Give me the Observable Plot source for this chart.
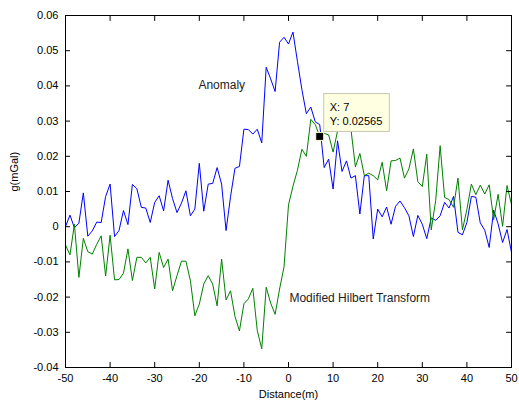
<!DOCTYPE html>
<html>
<head>
<meta charset="utf-8">
<script src="https://cdn.jsdelivr.net/npm/d3@7"></script>
<script src="https://cdn.jsdelivr.net/npm/@observablehq/plot@0.6"></script>
<style>
  html, body { margin: 0; padding: 0; background: #fff; }
  #chart { width: 519px; height: 405px; }
</style>
</head>
<body>
<div id="chart"></div>
<script>
// Distance positions (m)
const distance = d3.range(-50, 51, 1);

// Anomaly (blue), mGal
const anomaly = [
  0.0000, 0.0033, -0.0003, 0.0010, 0.0096, -0.0027, -0.0012, 0.0013, 0.0012, 0.0086,
  0.0121, -0.0028, -0.0011, 0.0046, 0.0006, 0.0120, 0.0108, 0.0055, 0.0053, 0.0012,
  0.0069, 0.0088, 0.0045, 0.0132, 0.0080, 0.0040, 0.0067, 0.0102, 0.0031, 0.0050,
  0.0180, 0.0044, 0.0121, 0.0123, 0.0168, 0.0121, -0.0011, 0.0085, 0.0166, 0.0171,
  0.0277, 0.0276, 0.0263, 0.0277, 0.0238, 0.0453, 0.0420, 0.0384, 0.0524, 0.0538,
  0.0519,
  0.0553, 0.0470, 0.0390, 0.0321, 0.0340, 0.0298, 0.0290, 0.0168, 0.0192, 0.0107,
  0.0244, 0.0157, 0.0187, 0.0138, 0.0145, 0.0036, 0.0145, 0.0145, -0.0035, 0.0050,
  0.0028, 0.0056, 0.0007, 0.0058, 0.0073, 0.0054, 0.0031, -0.0028, 0.0032, 0.0007,
  -0.0034, 0.0025, 0.0018, 0.0031, 0.0069, 0.0053, 0.0086, -0.0016, -0.0023, 0.0012,
  0.0086, 0.0084, 0.0011, -0.0010, -0.0059, 0.0047, 0.0008, -0.0045, -0.0008, -0.0073
];

// Modified Hilbert Transform (green), mGal
const hilbert = [
  -0.0052, -0.0080, 0.0007, -0.0144, -0.0033, -0.0071, -0.0078, -0.0050, -0.0026, -0.0140,
  -0.0024, -0.0151, -0.0150, -0.0132, -0.0063, -0.0153, -0.0087, -0.0087, -0.0103, -0.0087,
  -0.0177, -0.0073, -0.0116, -0.0092, -0.0182, -0.0139, -0.0098, -0.0098, -0.0153, -0.0253,
  -0.0220, -0.0163, -0.0139, -0.0163, -0.0225, -0.0092, -0.0208, -0.0182, -0.0255, -0.0296,
  -0.0219, -0.0205, -0.0175, -0.0295, -0.0347, -0.0172, -0.0217, -0.0249, -0.0177, -0.0114,
  0.0062,
  0.0115, 0.0160, 0.0220, 0.0200, 0.0305, 0.0290, 0.02565, 0.0265, 0.0261, 0.0212,
  0.0272, 0.0285, 0.0300, 0.0277, 0.0170, 0.0208, 0.0145, 0.0152, 0.0145, 0.0133,
  0.0183, 0.0102, 0.0187, 0.0188, 0.0195, 0.0138, 0.0164, 0.0221, 0.0128, 0.0114,
  0.0206, -0.0009, 0.0074, 0.0230, 0.0083, 0.0077, 0.0055, 0.0138, -0.0009, 0.0049,
  0.0121, 0.0091, 0.0118, 0.0093, 0.0119, 0.0020, 0.0092, 0.0001, 0.0117, 0.0063
];

const xTicks = [-50, -40, -30, -20, -10, 0, 10, 20, 30, 40, 50];
const yTicks = [-0.04, -0.03, -0.02, -0.01, 0, 0.01, 0.02, 0.03, 0.04, 0.05, 0.06];

const seriesLabels = [
  {text: "Anomaly", x: -20.2, y: 0.0401},
  {text: "Modified Hilbert Transform", x: 0.2, y: -0.0202}
];
const dataTip = [{x: 7, y: 0.02565}];

const anomalyData = distance.map((d, i) => ({x: d, y: anomaly[i]}));
const hilbertData = distance.map((d, i) => ({x: d, y: hilbert[i]}));

const fmt = d => String(d);
const font = "'Liberation Sans', Arial, Helvetica, sans-serif";

// simple straight tick shape for inward ticks on top/right edges
const tickShape = {draw(context, l) { context.moveTo(0, 0); context.lineTo(0, -l); }};

const chart = Plot.plot({
  width: 519,
  height: 405,
  marginLeft: 65,
  marginRight: 8,
  marginTop: 15,
  marginBottom: 38,
  style: {fontFamily: font, fontSize: "11px", color: "#000", background: "#fff", overflow: "visible"},
  x: {domain: [-50, 50]},
  y: {domain: [-0.04, 0.06]},
  marks: [
    Plot.line(anomalyData, {x: "x", y: "y", stroke: "#0000ff", strokeWidth: 1}),
    Plot.line(hilbertData, {x: "x", y: "y", stroke: "#008000", strokeWidth: 1}),
    Plot.frame({stroke: "#000", strokeWidth: 1}),
    Plot.axisX(xTicks, {anchor: "bottom", tickSize: -5, tickPadding: 12, tickFormat: fmt, label: null}),
    Plot.axisY(yTicks, {anchor: "left", tickSize: -5, tickPadding: 12, tickFormat: fmt, label: null}),
    Plot.vector(xTicks, {x: d => d, frameAnchor: "top", length: 5, rotate: 180, anchor: "start", shape: tickShape, stroke: "#000", strokeWidth: 1}),
    Plot.vector(yTicks, {y: d => d, frameAnchor: "right", length: 5, rotate: -90, anchor: "start", shape: tickShape, stroke: "#000", strokeWidth: 1}),
    Plot.text(seriesLabels, {x: "x", y: "y", text: "text", textAnchor: "start", fontSize: 12, fill: "#222"}),
    Plot.text(["g(mGal)"], {frameAnchor: "left", text: d => d, rotate: -90, dx: -51, fontSize: 11}),
    Plot.text(["Distance(m)"], {frameAnchor: "bottom", text: d => d, dy: 30, fontSize: 11}),
    Plot.dot(dataTip, {x: "x", y: "y", symbol: "square", r: 4.5, fill: "#000", stroke: "#ffffd0", strokeWidth: 1}),
    Plot.text(dataTip, {
      x: "x", y: "y",
      text: d => `X: ${d.x}\nY: ${d.y}`,
      textAnchor: "start", lineAnchor: "bottom",
      dx: 10, dy: -11, fontSize: 11, lineHeight: 1.35, fill: "#000",
      ariaLabel: () => "datatip"
    })
  ]
});
document.getElementById("chart").appendChild(chart);

// Data-cursor box sized to its text
const tipText = chart.querySelector('[aria-label="datatip"]');
if (tipText) {
  const bb = tipText.getBBox();
  const rect = document.createElementNS("http://www.w3.org/2000/svg", "rect");
  let tx = 0, ty = 0;
  const tr = tipText.getAttribute("transform");
  if (tr) {
    const m = /translate\(([-\d.e]+)[ ,]+([-\d.e]+)\)/.exec(tr);
    if (m) { tx = +m[1]; ty = +m[2]; }
  }
  rect.setAttribute("x", tx + bb.x - 6);
  rect.setAttribute("y", ty + bb.y - 7);
  rect.setAttribute("width", bb.width + 13);
  rect.setAttribute("height", bb.height + 11);
  rect.setAttribute("fill", "#ffffe1");
  rect.setAttribute("stroke", "#c8c8b0");
  tipText.parentNode.insertBefore(rect, tipText);
}
</script>
</body>
</html>
